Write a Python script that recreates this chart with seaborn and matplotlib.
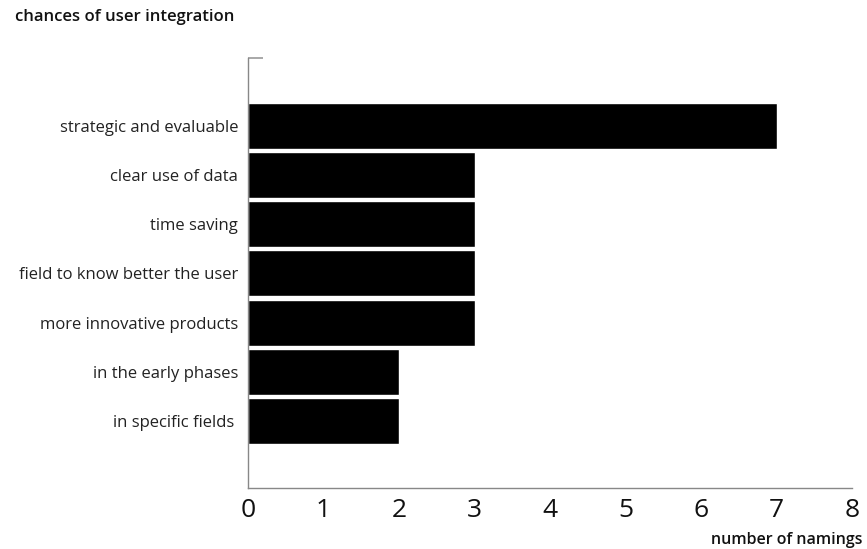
import matplotlib
matplotlib.use("Agg")
import matplotlib.pyplot as plt
import pandas as pd
import seaborn as sns

categories = [
    "strategic and evaluable",
    "clear use of data",
    "time saving",
    "field to know better the user",
    "more innovative products",
    "in the early phases",
    "in specific fields ",
]
namings = [7, 3, 3, 3, 3, 2, 2]
x_ticks = [0, 1, 2, 3, 4, 5, 6, 7, 8]

TITLE = "chances of user integration"
X_LABEL = "number of namings"


def main() -> None:
    df = pd.DataFrame({"category": categories, "namings": namings})

    sns.set_theme(style="white")
    plt.rcParams["font.family"] = ["Open Sans", "DejaVu Sans"]

    fig = plt.figure(figsize=(8.67, 5.49), dpi=100)
    ax = fig.add_axes([0.286, 0.111, 0.697, 0.783])

    sns.barplot(
        data=df,
        x="namings",
        y="category",
        color="black",
        saturation=1,
        width=0.93,
        edgecolor="white",
        linewidth=1,
        ax=ax,
    )

    ax.set_xlim(0, 8)
    ax.set_ylim(7.36, -1.37)
    ax.set_xticks(x_ticks)
    ax.set_xticklabels([str(t) for t in x_ticks], fontsize=19, color="#111111")
    ax.tick_params(axis="y", length=0, labelsize=12, labelcolor="#222222", pad=7)
    ax.tick_params(axis="x", direction="in", length=8, width=1, color="#888888", pad=7)
    ax.set_yticks([-1.37], minor=True)
    ax.tick_params(axis="y", which="minor", direction="in", length=11, width=1.2,
                   color="#999999", left=True)

    for side in ["top", "right"]:
        ax.spines[side].set_visible(False)
    for side in ["left", "bottom"]:
        ax.spines[side].set_color("#888888")
        ax.spines[side].set_linewidth(1)

    ax.set_xlabel("")
    ax.set_ylabel("")
    fig.text(0.017, 0.969, TITLE, fontsize=12, fontweight="semibold",
             color="#111111", ha="left", va="center")
    fig.text(0.995, 0.016, X_LABEL, fontsize=11.5, fontweight="semibold",
             color="#111111", ha="right", va="center")

    fig.savefig("out.png", dpi=100)
    plt.close(fig)


if __name__ == "__main__":
    main()
